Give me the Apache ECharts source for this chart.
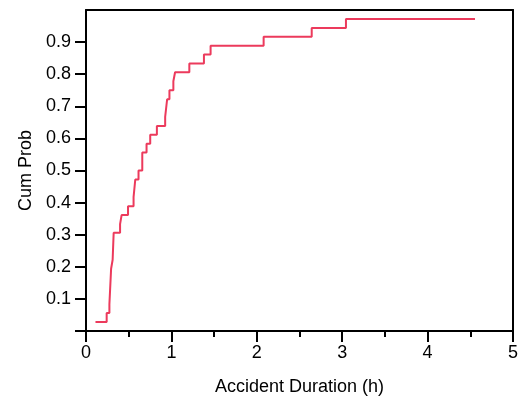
<!DOCTYPE html>
<html>
<head>
<meta charset="utf-8">
<script src="https://cdn.jsdelivr.net/npm/echarts@6/dist/echarts.min.js"></script>
<style>
html,body{margin:0;padding:0;background:#fff;}
#chart{width:521px;height:401px;}
</style>
</head>
<body>
<div id="chart"></div>
<script>
// Accident duration (h) at each step of the empirical CDF
var durations = [0.111, 0.242, 0.274, 0.294, 0.312, 0.324, 0.399, 0.417, 0.492, 0.557, 0.577, 0.615,
  0.659, 0.709, 0.752, 0.830, 0.927, 0.950, 0.977, 1.023, 1.043, 1.210, 1.381, 1.459,
  2.080, 2.643, 3.044, 4.555];
// Cumulative probability reached at each step
var cumProb = [0.028, 0.056, 0.083, 0.194, 0.222, 0.306, 0.333, 0.361, 0.389, 0.417, 0.472, 0.500,
  0.556, 0.583, 0.611, 0.639, 0.667, 0.722, 0.750, 0.778, 0.806, 0.833, 0.861, 0.889,
  0.917, 0.944, 0.972, 0.972];
var xTicks = [0, 1, 2, 3, 4, 5];
var yTickLabels = [0.1, 0.2, 0.3, 0.4, 0.5, 0.6, 0.7, 0.8, 0.9];
var yTicks = [0, 0.1, 0.2, 0.3, 0.4, 0.5, 0.6, 0.7, 0.8, 0.9];

var points = durations.map(function (d, i) { return [d, cumProb[i]]; });
var font = '"Liberation Sans", Arial, sans-serif';
var axisLineStyle = { color: '#000', width: 2 };

var chart = echarts.init(document.getElementById('chart'), null, { renderer: 'canvas' });
chart.setOption({
  animation: false,
  backgroundColor: '#fff',
  grid: { left: 86, right: 6, top: 10, bottom: 69, containLabel: false },
  xAxis: [{
    type: 'value', min: 0, max: 5, interval: 1,
    name: 'Accident Duration (h)', nameLocation: 'middle', nameGap: 47,
    nameTextStyle: { color: '#000', fontSize: 18, fontFamily: font },
    axisLine: { show: true, onZero: false, lineStyle: axisLineStyle },
    axisTick: { show: true, inside: false, length: 11, lineStyle: { color: '#000', width: 2 } },
    minorTick: { show: true, splitNumber: 2, length: 6, lineStyle: { color: '#000', width: 2 } },
    axisLabel: { color: '#000', fontSize: 18, fontFamily: font, margin: 13,
      customValues: xTicks, formatter: function (v) { return String(v); } },
    splitLine: { show: false }
  }, {
    type: 'value', position: 'top', min: 0, max: 5,
    axisLine: { show: true, onZero: false, lineStyle: axisLineStyle },
    axisTick: { show: false }, axisLabel: { show: false }, splitLine: { show: false }
  }],
  yAxis: [{
    type: 'value', min: 0, max: 1, interval: 0.1,
    name: 'Cum Prob', nameLocation: 'middle', nameGap: 49,
    nameTextStyle: { color: '#000', fontSize: 18, fontFamily: font },
    axisLine: { show: true, onZero: false, lineStyle: axisLineStyle },
    axisTick: { show: true, inside: false, length: 11, customValues: yTicks,
      lineStyle: { color: '#000', width: 2 } },
    axisLabel: { color: '#000', fontSize: 18, fontFamily: font, margin: 15,
      customValues: yTickLabels, formatter: function (v) { return v.toFixed(1); } },
    splitLine: { show: false }
  }, {
    type: 'value', position: 'right', min: 0, max: 1,
    axisLine: { show: true, onZero: false, lineStyle: axisLineStyle },
    axisTick: { show: false }, axisLabel: { show: false }, splitLine: { show: false }
  }],
  series: [{
    type: 'line',
    step: 'end',
    data: points,
    showSymbol: false,
    symbol: 'none',
    lineStyle: { color: '#ec3a5c', width: 2 },
    silent: true
  }]
});
</script>
</body>
</html>
